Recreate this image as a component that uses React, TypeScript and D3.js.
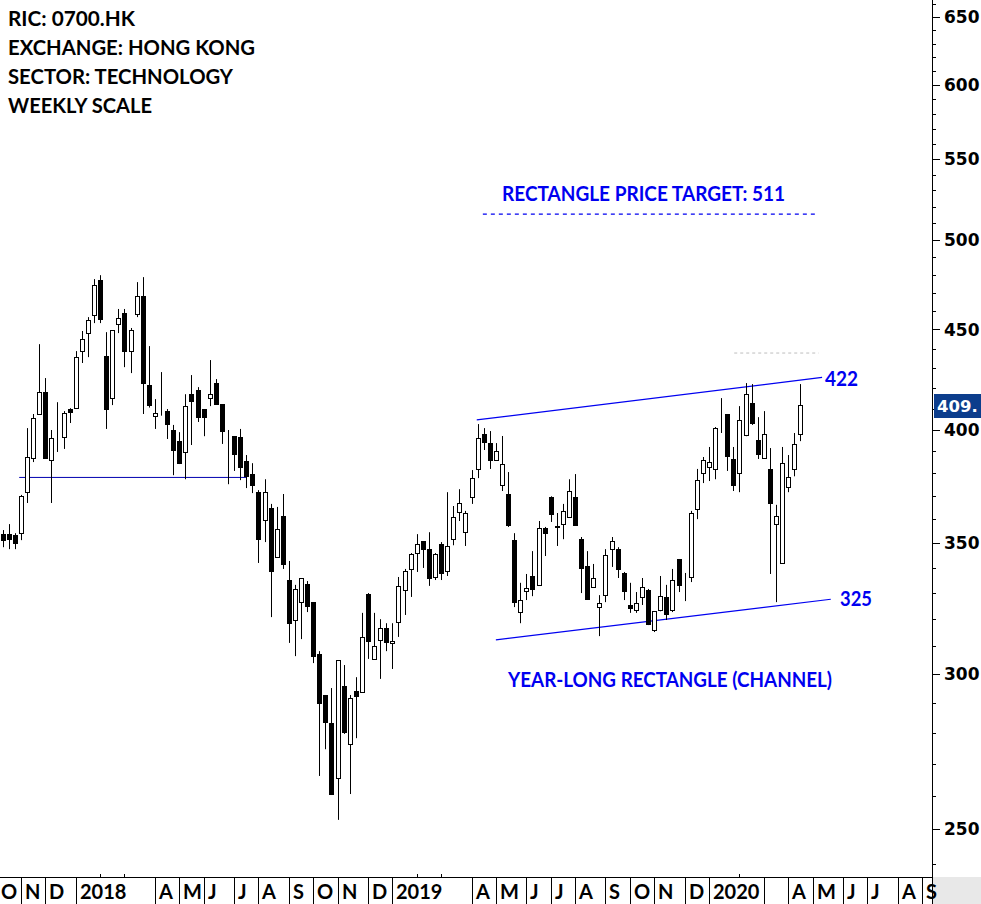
import React from 'react';
import * as d3 from 'd3';

const W = 981;
const H = 904;

const headerLines = ['RIC: 0700.HK', 'EXCHANGE: HONG KONG', 'SECTOR: TECHNOLOGY', 'WEEKLY SCALE'];
const headerWidths = [127, 247, 225, 144];

// Weekly OHLC, first week ending 2017-10-13
const firstWeekEnding = '2017-10-13';
const opens = [
  353.7, 353.7, 353.3, 354.1, 371.6, 386.8, 407.4, 418.0, 385.9, 391.4,
  396.5, 409.8, 410.2, 438.7, 448.1, 457.7, 476.9, 436.1, 415.1, 452.9,
  458.8, 438.7, 458.2, 468.0, 421.5, 406.6, 410.7, 408.8, 399.8, 394.6,
  389.6, 417.0, 419.0, 409.8, 415.1, 422.5, 412.2, 396.5, 397.0, 396.5,
  385.4, 379.6, 371.6, 359.6, 364.8, 344.3, 361.3, 335.1, 319.7, 326.5,
  333.6, 326.5, 307.2, 292.7, 283.2, 265.4, 295.8, 276.3, 294.1, 293.7,
  329.7, 305.4, 312.3, 316.7, 311.2, 318.9, 331.2, 339.5, 345.9, 350.8,
  347.5, 336.3, 349.6, 338.7, 351.6, 363.0, 354.5, 369.5, 381.9, 397.9,
  393.7, 385.9, 374.7, 370.8, 351.2, 322.7, 330.8, 336.7, 333.2, 356.2,
  369.5, 356.7, 357.9, 360.9, 369.5, 351.6, 340.7, 332.4, 324.6, 329.2,
  347.5, 347.5, 337.9, 325.4, 323.5, 328.5, 331.2, 315.9, 323.5, 328.5,
  323.5, 343.5, 336.7, 336.3, 364.3, 380.0, 382.7, 381.9, 401.7, 407.4,
  386.4, 380.0, 397.4, 412.7, 395.1, 386.8, 381.9, 357.9, 341.9, 373.8,
  381.9, 397.9,
];
const highs = [
  355.4, 357.9, 354.1, 370.4, 400.7, 407.4, 442.3, 425.0, 399.8, 413.1,
  408.8, 410.2, 438.7, 449.2, 456.6, 477.5, 479.7, 448.6, 449.7, 461.0,
  461.0, 450.8, 475.8, 478.6, 441.3, 414.6, 428.0, 409.8, 402.2, 398.8,
  417.0, 426.5, 420.5, 409.8, 434.1, 424.5, 412.2, 399.8, 397.0, 400.3,
  388.2, 384.5, 372.5, 377.3, 366.5, 365.2, 370.8, 342.7, 333.2, 335.9,
  334.7, 326.5, 308.2, 292.7, 295.1, 305.0, 303.2, 292.7, 298.9, 322.4,
  330.0, 322.4, 320.0, 318.5, 318.5, 336.3, 339.5, 345.9, 353.7, 350.8,
  354.5, 345.9, 350.4, 371.6, 365.6, 372.9, 363.5, 381.4, 402.6, 400.7,
  399.3, 393.7, 397.0, 380.5, 354.1, 334.0, 337.5, 346.7, 359.2, 356.7,
  369.8, 362.6, 366.5, 377.3, 379.6, 352.5, 346.7, 341.5, 329.2, 347.5,
  352.5, 348.3, 338.3, 334.0, 330.4, 335.9, 331.6, 323.1, 336.7, 333.2,
  339.5, 343.5, 337.9, 363.5, 381.9, 387.3, 391.9, 401.2, 415.1, 407.4,
  391.9, 411.2, 422.5, 422.0, 405.9, 408.8, 391.4, 366.1, 391.9, 388.2,
  398.4, 422.0,
];
const lows = [
  348.3, 347.5, 347.5, 351.2, 366.9, 385.0, 407.4, 386.8, 366.9, 389.6,
  391.0, 403.1, 409.8, 432.6, 435.6, 453.4, 453.4, 400.3, 411.7, 448.1,
  430.5, 427.5, 456.6, 407.4, 410.5, 400.3, 406.6, 395.6, 379.1, 384.1,
  377.3, 392.8, 403.6, 396.9, 411.2, 412.0, 393.3, 375.1, 381.0, 376.9,
  373.4, 371.2, 341.9, 350.4, 320.8, 343.9, 339.5, 311.2, 306.4, 312.6,
  322.7, 303.9, 266.1, 274.6, 260.2, 252.7, 279.6, 260.5, 278.2, 293.4,
  305.4, 305.4, 298.3, 308.2, 301.8, 313.4, 321.6, 328.5, 338.3, 339.9,
  332.8, 335.1, 335.1, 336.7, 349.1, 359.2, 348.8, 366.5, 377.8, 390.5,
  381.9, 385.9, 372.1, 356.7, 324.6, 318.5, 327.3, 328.8, 333.0, 344.7,
  358.8, 348.8, 351.6, 360.5, 357.1, 330.0, 327.5, 332.0, 313.7, 326.5,
  340.3, 335.9, 327.3, 322.4, 322.4, 325.4, 317.8, 315.2, 323.0, 319.7,
  322.7, 330.4, 326.9, 334.3, 360.0, 375.6, 376.5, 377.3, 398.4, 381.0,
  372.1, 371.6, 396.9, 402.2, 386.4, 386.5, 337.5, 326.5, 341.5, 371.6,
  378.6, 394.6,
];
const closes = [
  351.2, 351.6, 349.9, 369.9, 387.3, 405.5, 418.0, 386.8, 396.0, 391.6,
  407.9, 408.3, 435.6, 444.9, 455.0, 474.1, 455.5, 409.8, 449.7, 456.1,
  438.7, 449.7, 468.0, 422.5, 411.7, 407.9, 410.9, 402.6, 390.5, 384.5,
  411.2, 413.6, 405.9, 405.9, 417.0, 412.2, 399.3, 396.7, 388.7, 382.7,
  378.6, 374.7, 351.6, 371.6, 338.7, 355.8, 341.5, 318.5, 331.6, 335.9,
  325.0, 306.4, 290.0, 283.5, 260.5, 305.0, 280.2, 291.7, 292.4, 313.4,
  311.9, 310.1, 316.7, 311.5, 311.9, 332.8, 338.7, 345.5, 349.6, 347.5,
  335.9, 345.5, 337.9, 348.8, 360.9, 366.9, 362.6, 377.8, 396.0, 394.2,
  385.9, 390.0, 384.1, 357.5, 326.5, 327.3, 332.0, 331.6, 356.2, 354.1,
  362.2, 356.9, 363.5, 372.1, 357.5, 339.9, 327.7, 335.9, 326.1, 345.1,
  350.8, 339.5, 330.8, 324.2, 326.1, 332.4, 318.2, 323.1, 328.8, 322.0,
  335.1, 333.2, 336.5, 362.6, 376.9, 385.9, 385.0, 400.7, 401.9, 387.7,
  374.7, 404.5, 417.0, 403.1, 388.7, 397.9, 366.9, 361.3, 384.5, 378.2,
  393.3, 411.7,
];

// Month axis: Oct 2017 .. Sep 2020
const axisStart = '2017-10-01';
const monthLabels = [
  'O', 'N', 'D', '2018', '', '', 'A', 'M', 'J', 'J', 'A', 'S',
  'O', 'N', 'D', '2019', '', '', 'A', 'M', 'J', 'J', 'A', 'S',
  'O', 'N', 'D', '2020', '', '', 'A', 'M', 'J', 'J', 'A', 'S',
];
const monthSeparators = [
  1, 1, 1, 1, 0, 0, 1, 1, 1, 1, 1, 1,
  1, 1, 1, 1, 0, 0, 1, 1, 1, 1, 1, 1,
  1, 1, 1, 1, 0, 1, 1, 1, 1, 1, 1, 1,
];

const priceLabels = [250, 300, 350, 400, 450, 500, 550, 600, 650];
const minorTicks = d3.range(240, 661, 10);

const supportLine = [{ date: '2017-11-01', value: 378.1 }, { date: '2018-07-20', value: 378.1 }];
const upperChannel = [{ date: '2019-04-11', value: 404.6 }, { date: '2020-05-12', value: 425.3 }];
const lowerChannel = [{ date: '2019-05-03', value: 312.3 }, { date: '2020-05-22', value: 327.6 }];
const targetLine = [{ date: '2019-04-18', value: 515.4 }, { date: '2020-05-06', value: 515.4 }];
const greyLine = [{ date: '2020-02-01', value: 437.7 }, { date: '2020-05-08', value: 437.7 }];
const lastPriceLabel = '409.';

const parse = d3.utcParse('%Y-%m-%d');
const BLUE = '#0000f0';
const LABEL_FONT = 'Lato, "Open Sans", sans-serif';
const AXIS_FONT = '"DejaVu Sans", Verdana, sans-serif';

export default function App() {
  const axisX = 932;
  const axisY = 877;
  const x = d3.scaleUtc().domain([parse('2018-01-03')!, parse('2020-01-03')!]).range([74, 709]);
  const y = d3.scaleLog().domain([250, 650]).range([829, 17]);

  const first = parse(firstWeekEnding)!;
  const dates = opens.map((_, i) => d3.utcDay.offset(first, 7 * i));
  const months = d3.utcMonth.range(parse(axisStart)!, d3.utcMonth.offset(parse(axisStart)!, monthLabels.length));

  const lineGen = d3
    .line<{ date: string; value: number }>()
    .x((d) => x(parse(d.date)!))
    .y((d) => y(d.value));

  return (
    <svg
      width={W}
      height={H}
      style={{ position: 'absolute', left: 0, top: 0, background: '#fff' }}
      xmlns="http://www.w3.org/2000/svg"
    >
      <rect x={0} y={0} width={W} height={H} fill="#fff" />
      <defs>
        <clipPath id="plot">
          <rect x={0} y={0} width={axisX} height={axisY} />
        </clipPath>
      </defs>

      {/* header */}
      {headerLines.map((t, i) => (
        <text
          key={t}
          x={8}
          y={26 + i * 29}
          fontFamily={LABEL_FONT}
          fontWeight={700}
          fontSize={20}
          fill="#000"
          textLength={headerWidths[i]}
          lengthAdjust="spacingAndGlyphs"
        >
          {t}
        </text>
      ))}

      <g clipPath="url(#plot)">
        {/* support line */}
        <path d={lineGen(supportLine)!} stroke="#0000b0" strokeWidth={1} fill="none" />
        {/* channel */}
        <path d={lineGen(upperChannel)!} stroke={BLUE} strokeWidth={1.2} fill="none" />
        <path d={lineGen(lowerChannel)!} stroke={BLUE} strokeWidth={1.2} fill="none" />
        {/* target */}
        <path d={lineGen(targetLine)!} stroke={BLUE} strokeWidth={1.3} strokeDasharray="4,4" fill="none" />
        <path d={lineGen(greyLine)!} stroke="#bdbdbd" strokeWidth={1} strokeDasharray="3,3" fill="none" />

        {/* candles */}
        {dates.map((d, i) => {
          const o = opens[i];
          const c = closes[i];
          const cx = Math.round(x(d));
          const up = c >= o;
          const yTop = Math.round(y(Math.max(o, c))) + 0.5;
          const yBot = Math.round(y(Math.min(o, c))) + 0.5;
          return (
            <g key={i}>
              <line
                x1={cx + 0.5}
                x2={cx + 0.5}
                y1={y(highs[i])}
                y2={y(lows[i])}
                stroke="#000"
                strokeWidth={1}
              />
              <rect
                x={cx - 1.5}
                y={yTop}
                width={4}
                height={Math.max(0, yBot - yTop)}
                fill={up ? '#fff' : '#000'}
                stroke="#000"
                strokeWidth={1}
              />
            </g>
          );
        })}
      </g>

      {/* annotations */}
      <text x={502} y={201} fontFamily={LABEL_FONT} fontWeight={700} fontSize={20} fill={BLUE}
        textLength={283} lengthAdjust="spacingAndGlyphs">RECTANGLE PRICE TARGET: 511</text>
      <text x={825} y={386} fontFamily={LABEL_FONT} fontWeight={700} fontSize={20} fill={BLUE}
        textLength={33} lengthAdjust="spacingAndGlyphs">422</text>
      <text x={840} y={606} fontFamily={LABEL_FONT} fontWeight={700} fontSize={20} fill={BLUE}
        textLength={32} lengthAdjust="spacingAndGlyphs">325</text>
      <text x={508} y={687} fontFamily={LABEL_FONT} fontWeight={700} fontSize={20} fill={BLUE}
        textLength={324} lengthAdjust="spacingAndGlyphs">YEAR-LONG RECTANGLE (CHANNEL)</text>

      {/* right axis */}
      <line x1={axisX + 0.5} x2={axisX + 0.5} y1={0} y2={H} stroke="#000" strokeWidth={1} />
      {minorTicks.map((v) => {
        const major = v % 50 === 0;
        const yy = Math.round(y(v)) + 0.5;
        return (
          <line key={v} x1={axisX} x2={axisX + (major ? 8 : 4)} y1={yy} y2={yy} stroke="#000" strokeWidth={1} />
        );
      })}
      {priceLabels.map((v) => (
        <text
          key={v}
          x={944}
          y={y(v)}
          dy="0.36em"
          fontFamily={AXIS_FONT}
          fontWeight={700}
          fontSize={17}
          fill="#000"
        >
          {v}
        </text>
      ))}
      <rect x={934} y={394} width={W - 934} height={24} fill="#0c3d8c" />
      <text x={937} y={412} fontFamily={AXIS_FONT} fontWeight={700} fontSize={16.5} fill="#fff">
        {lastPriceLabel}
      </text>

      {/* bottom axis */}
      <rect x={axisX + 1} y={axisY} width={W - axisX - 1} height={H - axisY} fill="#e8e8e8" />
      <line x1={0} x2={axisX} y1={axisY + 0.5} y2={axisY + 0.5} stroke="#000" strokeWidth={1} />
      {months.map((m, i) => {
        const firstBar = d3.utcFriday.ceil(m);
        const mx = Math.round(x(firstBar)) + 0.5;
        if (mx > axisX) return null;
        return (
          <g key={i}>
            {monthSeparators[i] ? (
              <line x1={mx} x2={mx} y1={axisY} y2={H} stroke="#000" strokeWidth={1} />
            ) : (
              <line x1={mx} x2={mx} y1={axisY - 3} y2={axisY} stroke="#000" strokeWidth={1} />
            )}
            {monthLabels[i] && (
              <text x={mx + 3.5} y={899} fontFamily={LABEL_FONT} fontWeight={700} fontSize={20} fill="#000">
                {monthLabels[i]}
              </text>
            )}
          </g>
        );
      })}
    </svg>
  );
}
